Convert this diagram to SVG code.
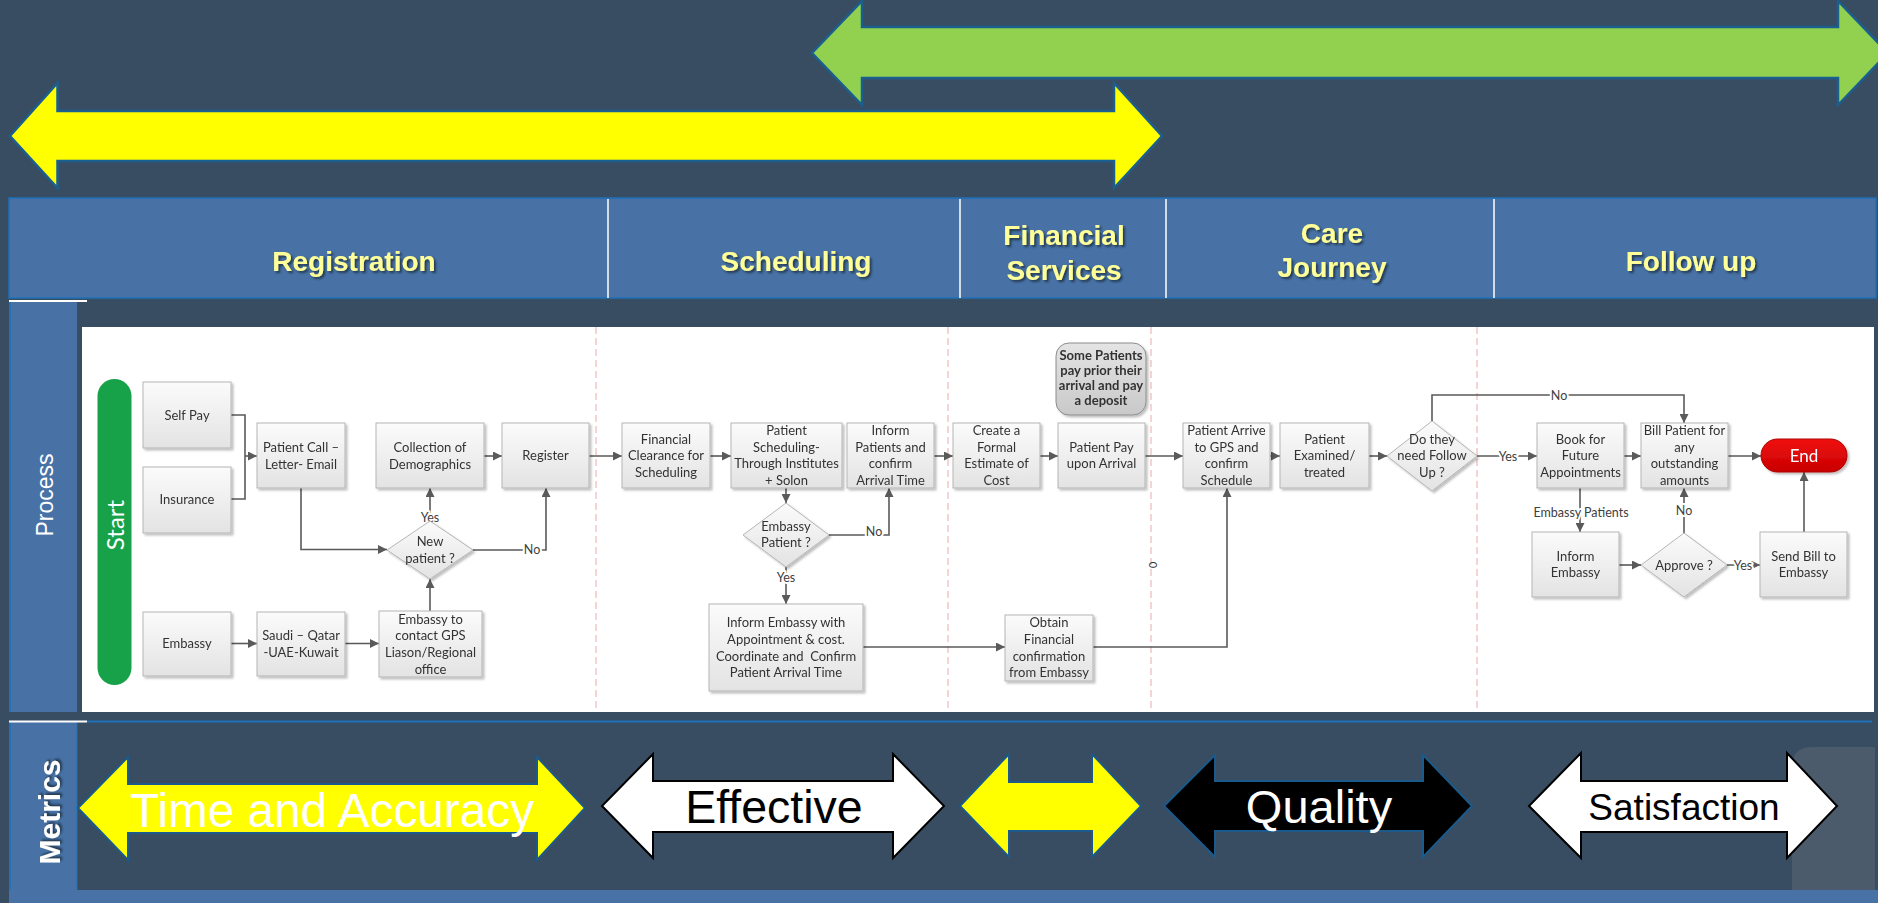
<svg xmlns="http://www.w3.org/2000/svg" width="1878" height="903" viewBox="0 0 1878 903">
<defs>
<style>
.hdr{font-family:"Liberation Sans",Arial,sans-serif;font-weight:bold;font-size:28px;fill:#ffff99;text-anchor:middle}
.side{font-family:"Liberation Sans",Arial,sans-serif;fill:#ffffff;text-anchor:middle}
.box{fill:url(#boxg);stroke:#b5b5b5;stroke-width:1}
.t{font-family:Lato,"Liberation Sans",sans-serif;font-size:13px;fill:#333333;text-anchor:middle}
.lbl{font-family:Lato,"Liberation Sans",sans-serif;font-size:12.5px;fill:#404040;text-anchor:middle;stroke:#ffffff;stroke-width:4px;paint-order:stroke;stroke-linejoin:round}
.con{fill:none;stroke:#5a5a5a;stroke-width:1.6}
.lane{stroke:#e9a9a9;stroke-width:1;stroke-dasharray:7 4}
.met{font-family:"Liberation Sans",Arial,sans-serif;text-anchor:middle}
</style>
<linearGradient id="boxg" x1="0" y1="0" x2="0" y2="1">
<stop offset="0" stop-color="#fbfbfb"/>
<stop offset="1" stop-color="#e3e3e3"/>
</linearGradient>
<linearGradient id="noteg" x1="0" y1="0" x2="0" y2="1">
<stop offset="0" stop-color="#e4e4e4"/>
<stop offset="1" stop-color="#c9c9c9"/>
</linearGradient>
<linearGradient id="endg" x1="0" y1="0" x2="0" y2="1">
<stop offset="0" stop-color="#f01010"/>
<stop offset="1" stop-color="#c80000"/>
</linearGradient>
<filter id="sh" x="-10%" y="-10%" width="130%" height="130%">
<feDropShadow dx="2" dy="2" stdDeviation="1.2" flood-color="#000" flood-opacity="0.25"/>
</filter>
<filter id="ts" x="-5%" y="-20%" width="115%" height="150%">
<feDropShadow dx="2" dy="2" stdDeviation="1" flood-color="#1a2a3a" flood-opacity="0.8"/>
</filter>
<marker id="arr" viewBox="0 0 10 10" refX="10" refY="5" markerWidth="9" markerHeight="9" markerUnits="userSpaceOnUse" orient="auto">
<path d="M0,0 L10,5 L0,10 z" fill="#5a5a5a"/>
</marker>
</defs>

<rect x="0" y="0" width="1878" height="903" fill="#384d62"/>

<g id="top-arrows" stroke="#1b5f8f" stroke-width="2.5" stroke-linejoin="miter">
<polygon points="812,53 862,1 862,27 1838,27 1838,1 1888,53 1838,105 1838,78 862,78 862,105" fill="#92d050"/>
<polygon points="10,136 57.5,83 57.5,111 1114,111 1114,83 1162,136 1114,188 1114,161 57.5,161 57.5,188" fill="#ffff00"/>
</g>

<g id="header">
<rect x="9" y="198" width="1867" height="100" fill="#4872a6" stroke="#1e70b8" stroke-width="1.5"/>
<g stroke="#ffffff" stroke-width="1.5">
<line x1="608" y1="199" x2="608" y2="298"/>
<line x1="960" y1="199" x2="960" y2="298"/>
<line x1="1166" y1="199" x2="1166" y2="298"/>
<line x1="1494" y1="199" x2="1494" y2="298"/>
</g>
<g filter="url(#ts)">
<text class="hdr" x="354" y="271">Registration</text>
<text class="hdr" x="796" y="271">Scheduling</text>
<text class="hdr" x="1064" y="245">Financial</text>
<text class="hdr" x="1064" y="280">Services</text>
<text class="hdr" x="1332" y="243">Care</text>
<text class="hdr" x="1332" y="277">Journey</text>
<text class="hdr" x="1691" y="271">Follow up</text>
</g>
</g>

<g id="side-panels">
<rect x="9" y="302" width="68" height="410" fill="#4872a6"/>
<line x1="9" y1="301" x2="87" y2="301" stroke="#ffffff" stroke-width="2"/>
<line x1="10" y1="302" x2="10" y2="712" stroke="#1e70b8" stroke-width="1.5"/>
<text class="side" font-size="23" transform="translate(53,495) rotate(-90)">Process</text>
<rect x="9" y="722" width="68" height="168" fill="#4872a6"/>
<line x1="10" y1="722" x2="10" y2="890" stroke="#1e70b8" stroke-width="1.5"/>
<line x1="77" y1="722" x2="77" y2="890" stroke="#1e70b8" stroke-width="1"/>
<line x1="87" y1="721.5" x2="1872" y2="721.5" stroke="#1e70b8" stroke-width="2"/>
<line x1="9" y1="721.5" x2="87" y2="721.5" stroke="#ffffff" stroke-width="2"/>
<text class="side" font-size="30" font-weight="bold" filter="url(#ts)" transform="translate(60,812) rotate(-90)">Metrics</text>
<rect x="9" y="890" width="1869" height="13" fill="#4872a6"/>
</g>

<rect id="process-area" x="82" y="327" width="1792" height="385" fill="#ffffff"/>

<g id="lanes">
<line class="lane" x1="596" y1="327" x2="596" y2="712"/>
<line class="lane" x1="948" y1="327" x2="948" y2="712"/>
<line class="lane" x1="1151" y1="327" x2="1151" y2="712"/>
<line class="lane" x1="1477" y1="327" x2="1477" y2="712"/>
<text x="1153" y="565" font-family="Lato,'Liberation Sans',sans-serif" font-size="11" fill="#333" text-anchor="middle" dominant-baseline="central" transform="rotate(90 1153 565)">0</text>
</g>

<g id="connectors">
<path class="con" d="M231,415 H245 V499 H231"/>
<path class="con" d="M245,456 H257" marker-end="url(#arr)"/>
<path class="con" d="M301,488 V549.5 H387" marker-end="url(#arr)"/>
<path class="con" d="M231,643.5 H257" marker-end="url(#arr)"/>
<path class="con" d="M345,643.5 H379" marker-end="url(#arr)"/>
<path class="con" d="M430,611 V579" marker-end="url(#arr)"/>
<path class="con" d="M430,521 V488" marker-end="url(#arr)"/>
<path class="con" d="M473,550 H546 V488" marker-end="url(#arr)"/>
<path class="con" d="M484,456 H502" marker-end="url(#arr)"/>
<path class="con" d="M589,456 H622" marker-end="url(#arr)"/>
<path class="con" d="M710,456 H731" marker-end="url(#arr)"/>
<path class="con" d="M786,488 V503" marker-end="url(#arr)"/>
<path class="con" d="M829,535 H889 V488" marker-end="url(#arr)"/>
<path class="con" d="M786,567 V604" marker-end="url(#arr)"/>
<path class="con" d="M934,456 H953" marker-end="url(#arr)"/>
<path class="con" d="M1040,456 H1058" marker-end="url(#arr)"/>
<path class="con" d="M1145,456 H1183" marker-end="url(#arr)"/>
<path class="con" d="M863,647 H1005" marker-end="url(#arr)"/>
<path class="con" d="M1093,647 H1227 V488" marker-end="url(#arr)"/>
<path class="con" d="M1270,456 H1280" marker-end="url(#arr)"/>
<path class="con" d="M1369,456 H1387" marker-end="url(#arr)"/>
<path class="con" d="M1432,421 V395 H1684 V423" marker-end="url(#arr)"/>
<path class="con" d="M1477,456 H1537" marker-end="url(#arr)"/>
<path class="con" d="M1624,456 H1641" marker-end="url(#arr)"/>
<path class="con" d="M1728,456 H1761" marker-end="url(#arr)"/>
<path class="con" d="M1580,488 V532" marker-end="url(#arr)"/>
<path class="con" d="M1619,565 H1641" marker-end="url(#arr)"/>
<path class="con" d="M1684,533 V488" marker-end="url(#arr)"/>
<path class="con" d="M1727,565 H1760" marker-end="url(#arr)"/>
<path class="con" d="M1804,532 V472" marker-end="url(#arr)"/>
<text class="lbl" x="430" y="521.5">Yes</text>
<text class="lbl" x="532" y="554">No</text>
<text class="lbl" x="874" y="536">No</text>
<text class="lbl" x="786" y="581.5">Yes</text>
<text class="lbl" x="1559" y="399.5">No</text>
<text class="lbl" x="1508" y="460.5">Yes</text>
<text class="lbl" x="1581" y="517">Embassy Patients</text>
<text class="lbl" x="1684" y="515">No</text>
<text class="lbl" x="1743" y="569.5">Yes</text>
</g>

<g id="node-start">
<rect x="97.5" y="379" width="34" height="306" rx="17" fill="#17a24a"/>
<text transform="translate(123.5,525) rotate(-90)" font-family="Lato,'Liberation Sans',sans-serif" font-size="24" fill="#ffffff" text-anchor="middle">Start</text>
</g>
<g id="node-selfpay" filter="url(#sh)"><rect class="box" x="143" y="382" width="88" height="66"/><text class="t" x="187" y="419.5">Self Pay</text></g>
<g id="node-insurance" filter="url(#sh)"><rect class="box" x="143" y="467" width="88" height="66"/><text class="t" x="187" y="504">Insurance</text></g>
<g id="node-embassy" filter="url(#sh)"><rect class="box" x="143" y="612" width="88" height="64"/><text class="t" x="187" y="648">Embassy</text></g>
<g id="node-patientcall" filter="url(#sh)"><rect class="box" x="257" y="423" width="88" height="65"/><text class="t"><tspan x="301" y="452">Patient Call –</tspan><tspan x="301" y="468.6">Letter- Email</tspan></text></g>
<g id="node-saudi" filter="url(#sh)"><rect class="box" x="257" y="612" width="88" height="64"/><text class="t"><tspan x="301" y="640">Saudi – Qatar</tspan><tspan x="301" y="656.6">-UAE-Kuwait</tspan></text></g>
<g id="node-collection" filter="url(#sh)"><rect class="box" x="376" y="423" width="108" height="65"/><text class="t"><tspan x="430" y="452">Collection of</tspan><tspan x="430" y="468.6">Demographics</tspan></text></g>
<g id="node-register" filter="url(#sh)"><rect class="box" x="502" y="423" width="87" height="65"/><text class="t" x="545.5" y="460">Register</text></g>
<g id="node-embassycontact" filter="url(#sh)"><rect class="box" x="379" y="611" width="103" height="66"/><text class="t"><tspan x="430.5" y="623.5">Embassy to</tspan><tspan x="430.5" y="640.2">contact GPS</tspan><tspan x="430.5" y="656.8">Liason/Regional</tspan><tspan x="430.5" y="673.5">office</tspan></text></g>
<g id="node-newpatient" filter="url(#sh)"><polygon class="box" points="430,521 473,550 430,579 387,550"/><text class="t"><tspan x="430" y="546.2">New</tspan><tspan x="430" y="562.8">patient ?</tspan></text></g>

<g id="node-finclearance" filter="url(#sh)"><rect class="box" x="622" y="423" width="88" height="65"/><text class="t"><tspan x="666" y="443.5">Financial</tspan><tspan x="666" y="460">Clearance for</tspan><tspan x="666" y="476.6">Scheduling</tspan></text></g>
<g id="node-scheduling" filter="url(#sh)"><rect class="box" x="731" y="423" width="111" height="65"/><text class="t"><tspan x="786.5" y="435">Patient</tspan><tspan x="786.5" y="451.6">Scheduling-</tspan><tspan x="786.5" y="468.2">Through Institutes</tspan><tspan x="786.5" y="484.8">+ Solon</tspan></text></g>
<g id="node-informpatients" filter="url(#sh)"><rect class="box" x="847" y="423" width="87" height="65"/><text class="t"><tspan x="890.5" y="435">Inform</tspan><tspan x="890.5" y="451.6">Patients and</tspan><tspan x="890.5" y="468.2">confirm</tspan><tspan x="890.5" y="484.8">Arrival Time</tspan></text></g>
<g id="node-embassypatient" filter="url(#sh)"><polygon class="box" points="786,503 829,535 786,567 743,535"/><text class="t"><tspan x="786" y="530.5">Embassy</tspan><tspan x="786" y="546.8">Patient ?</tspan></text></g>
<g id="node-informembassywith" filter="url(#sh)"><rect class="box" x="709" y="604" width="154" height="87"/><text class="t" xml:space="preserve"><tspan x="786" y="627.2">Inform Embassy with</tspan><tspan x="786" y="643.8">Appointment &amp; cost.</tspan><tspan x="786" y="660.5">Coordinate and  Confirm</tspan><tspan x="786" y="677.2">Patient Arrival Time</tspan></text></g>
<g id="node-estimate" filter="url(#sh)"><rect class="box" x="953" y="423" width="87" height="65"/><text class="t"><tspan x="996.5" y="435">Create a</tspan><tspan x="996.5" y="451.6">Formal</tspan><tspan x="996.5" y="468.2">Estimate of</tspan><tspan x="996.5" y="484.8">Cost</tspan></text></g>
<g id="node-patientpay" filter="url(#sh)"><rect class="box" x="1058" y="423" width="87" height="65"/><text class="t"><tspan x="1101.5" y="451.6">Patient Pay</tspan><tspan x="1101.5" y="468.2">upon Arrival</tspan></text></g>
<g id="node-note" filter="url(#sh)"><rect x="1056" y="343" width="90" height="72" rx="13" fill="url(#noteg)" stroke="#8c8c8c" stroke-width="1"/><text class="t" font-size="11.5" font-weight="bold" fill="#222"><tspan x="1101" y="360">Some Patients</tspan><tspan x="1101" y="375">pay prior their</tspan><tspan x="1101" y="390">arrival and pay</tspan><tspan x="1101" y="404.7">a deposit</tspan></text></g>
<g id="node-obtain" filter="url(#sh)"><rect class="box" x="1005" y="615" width="88" height="66"/><text class="t"><tspan x="1049" y="627.2">Obtain</tspan><tspan x="1049" y="643.8">Financial</tspan><tspan x="1049" y="660.5">confirmation</tspan><tspan x="1049" y="677.2">from Embassy</tspan></text></g>

<g id="node-arrive" filter="url(#sh)"><rect class="box" x="1183" y="423" width="87" height="65"/><text class="t"><tspan x="1226.5" y="435">Patient Arrive</tspan><tspan x="1226.5" y="451.6">to GPS and</tspan><tspan x="1226.5" y="468.2">confirm</tspan><tspan x="1226.5" y="484.8">Schedule</tspan></text></g>
<g id="node-examined" filter="url(#sh)"><rect class="box" x="1280" y="423" width="89" height="65"/><text class="t"><tspan x="1324.5" y="443.5">Patient</tspan><tspan x="1324.5" y="460">Examined/</tspan><tspan x="1324.5" y="476.6">treated</tspan></text></g>
<g id="node-followup" filter="url(#sh)"><polygon class="box" points="1432,421 1477,456 1432,491 1387,456"/><text class="t"><tspan x="1432" y="443.5">Do they</tspan><tspan x="1432" y="460">need Follow</tspan><tspan x="1432" y="476.6">Up ?</tspan></text></g>
<g id="node-book" filter="url(#sh)"><rect class="box" x="1537" y="423" width="87" height="65"/><text class="t"><tspan x="1580.5" y="443.5">Book for</tspan><tspan x="1580.5" y="460">Future</tspan><tspan x="1580.5" y="476.6">Appointments</tspan></text></g>
<g id="node-bill" filter="url(#sh)"><rect class="box" x="1641" y="423" width="87" height="65"/><text class="t"><tspan x="1684.5" y="435">Bill Patient for</tspan><tspan x="1684.5" y="451.6">any</tspan><tspan x="1684.5" y="468.2">outstanding</tspan><tspan x="1684.5" y="484.8">amounts</tspan></text></g>
<g id="node-end" filter="url(#sh)"><rect x="1761" y="439" width="86" height="33" rx="16.5" fill="url(#endg)" stroke="#b00000" stroke-width="1"/><text x="1804" y="461.5" font-family="Lato,'Liberation Sans',sans-serif" font-size="17" fill="#ffffff" text-anchor="middle">End</text></g>
<g id="node-informembassy" filter="url(#sh)"><rect class="box" x="1532" y="532" width="87" height="65"/><text class="t"><tspan x="1575.5" y="560.6">Inform</tspan><tspan x="1575.5" y="577.2">Embassy</tspan></text></g>
<g id="node-approve" filter="url(#sh)"><polygon class="box" points="1684,533 1727,565 1684,597 1641,565"/><text class="t" x="1684" y="569.5">Approve ?</text></g>
<g id="node-sendbill" filter="url(#sh)"><rect class="box" x="1760" y="532" width="87" height="65"/><text class="t"><tspan x="1803.5" y="560.6">Send Bill to</tspan><tspan x="1803.5" y="577.2">Embassy</tspan></text></g>

<g id="metrics">
<path d="M1792,890 V767 Q1792,747 1812,747 H1875 V890 Z" fill="#4b5b6c"/>
<polygon points="78,808 128,757 128,784 537,784 537,757 585,808 537,860 537,833 128,833 128,860" fill="#ffff00" stroke="#1b5a8a" stroke-width="2"/>
<text class="met" x="332" y="827" font-size="48" fill="#ffffff" textLength="404" lengthAdjust="spacingAndGlyphs">Time and Accuracy</text>
<polygon points="602,806 653,754 653,781 893,781 893,754 944,806 893,858 893,832 653,832 653,858" fill="#ffffff" stroke="#000000" stroke-width="2"/>
<text class="met" x="774" y="823" font-size="46.5" fill="#000000">Effective</text>
<polygon points="960,806 1009,754 1009,782 1092,782 1092,754 1141,806 1092,857 1092,831 1009,831 1009,857" fill="#ffff00" stroke="#1b5a8a" stroke-width="2"/>
<polygon points="1164,806 1215,755 1215,781 1423,781 1423,755 1472,806 1423,857 1423,831 1215,831 1215,857" fill="#000000" stroke="#1b5a8a" stroke-width="2"/>
<text class="met" x="1319" y="823" font-size="47" fill="#ffffff">Quality</text>
<polygon points="1529,806 1581,753 1581,781 1787,781 1787,753 1837,806 1787,858 1787,832 1581,832 1581,858" fill="#ffffff" stroke="#000000" stroke-width="2"/>
<text class="met" x="1684" y="820" font-size="37" fill="#000000">Satisfaction</text>
</g>
</svg>
